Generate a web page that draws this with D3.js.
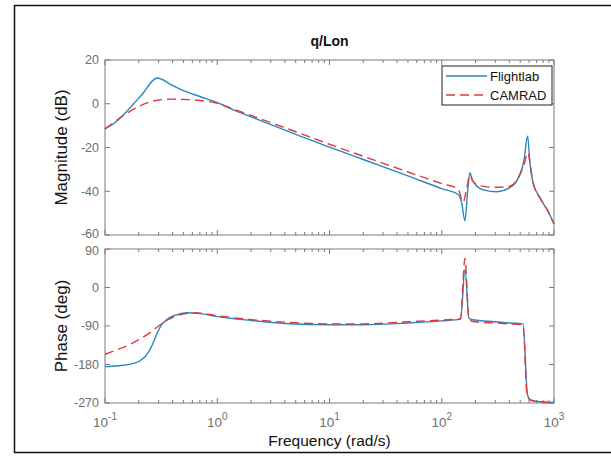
<!DOCTYPE html>
<html>
<head>
<meta charset="utf-8">
<script src="https://cdn.jsdelivr.net/npm/d3@7"></script>
<style>
  body { margin: 0; background: #fff; }
  svg { display: block; font-family: "Liberation Sans", Arial, sans-serif; }
</style>
</head>
<body>
<div id="chart"></div>
<script>
// frequency (rad/s) and magnitude (dB)
var magFreqFL = [0.1, 0.12, 0.15, 0.18, 0.22, 0.26, 0.29, 0.32, 0.38, 0.5, 0.7, 1, 1.5, 2, 3, 5, 10, 20, 50, 100, 140, 150, 161, 170, 178, 188, 200, 240, 310, 400, 480, 540, 582, 610, 650, 750, 880, 1000];
var magFL = [-11.5, -9, -4.5, 0, 5, 10, 11.8, 11.2, 9, 6, 3.3, 0.5, -3.5, -6, -9.5, -14, -19.8, -25.5, -33, -38.8, -41.5, -45, -53.5, -40, -31.5, -35, -37, -39.5, -40.2, -38.5, -34, -26, -14.7, -27, -36, -43, -49, -55];

var magFreqCR = [0.1, 0.12, 0.15, 0.2, 0.25, 0.3, 0.4, 0.5, 0.7, 1, 1.5, 2, 3, 5, 10, 20, 50, 100, 140, 155, 165, 178, 190, 220, 300, 400, 480, 540, 585, 615, 650, 750, 880, 1000];
var magCR = [-11.5, -8.5, -5, -1.2, 0.8, 1.7, 2.1, 2, 1.5, 0.2, -3, -5.3, -8.6, -12.8, -18.5, -24, -31.2, -36.5, -39, -45, -40, -32.8, -35.5, -37.5, -38.2, -37.8, -34, -28, -22.4, -28, -36, -43, -49, -55];

// frequency (rad/s) and phase (deg)
var phFreqFL = [0.1, 0.13, 0.17, 0.2, 0.23, 0.26, 0.29, 0.32, 0.36, 0.42, 0.53, 0.7, 1, 2, 4, 10, 20, 50, 100, 147, 161, 175, 195, 300, 400, 530, 580, 620, 700, 1000];
var phFL = [-185, -183, -179, -173, -160, -138, -108, -87, -74, -65, -59, -61, -68, -77, -84, -87, -87, -83, -78, -74, 42, -72, -76, -80, -83, -85, -250, -263, -266, -269];

var phFreqCR = [0.1, 0.13, 0.17, 0.2, 0.26, 0.3, 0.36, 0.45, 0.65, 1, 2, 4, 10, 20, 50, 100, 147, 161, 175, 195, 300, 400, 530, 575, 620, 1000];
var phCR = [-156, -145, -132, -122, -103, -90, -76, -65, -59, -66, -75, -81, -85, -85, -80, -76, -73, 68, -75, -80, -83, -85, -88, -250, -264, -270];

var magTicks = [20, 0, -20, -40, -60];
var phTicks = [90, 0, -90, -180, -270];
var freqTicks = [0.1, 1, 10, 100, 1000];
var seriesNames = ["Flightlab", "CAMRAD"];

var W = 611, H = 456;
var left = 105, right = 554;
var magTop = 60, magBot = 235;
var phTop = 249, phBot = 403;

var blue = "#2a86c0", red = "#e03a3e", axisCol = "#7a7a7a", dash = "9,5";

var svg = d3.select("#chart").append("svg")
    .attr("width", W)
    .attr("height", H);

// outer frame
svg.append("rect")
    .attr("x", 14.5).attr("y", 5.5)
    .attr("width", 620).attr("height", 447)
    .attr("fill", "none").attr("stroke", "#111").attr("stroke-width", 1.5);

var x = d3.scaleLog().domain([0.1, 1000]).range([left, right]);
var yMag = d3.scaleLinear().domain([-60, 20]).range([magBot, magTop]);
var yPh = d3.scaleLinear().domain([-270, 90]).range([phBot, phTop]);

// minor log ticks
var minor = [];
[0.1, 1, 10, 100].forEach(function(d) {
    for (var k = 2; k <= 9; k++) minor.push(d * k);
});

function drawAxes(y, ticks, top, bot, nudge) {
    var g = svg.append("g");
    g.append("rect")
        .attr("x", left).attr("y", top)
        .attr("width", right - left).attr("height", bot - top)
        .attr("fill", "#fff").attr("stroke", axisCol).attr("stroke-width", 1);

    // x ticks, inward on top and bottom
    freqTicks.forEach(function(f) {
        g.append("line").attr("x1", x(f)).attr("x2", x(f)).attr("y1", bot).attr("y2", bot - 5).attr("stroke", axisCol);
        g.append("line").attr("x1", x(f)).attr("x2", x(f)).attr("y1", top).attr("y2", top + 5).attr("stroke", axisCol);
    });
    minor.forEach(function(f) {
        g.append("line").attr("x1", x(f)).attr("x2", x(f)).attr("y1", bot).attr("y2", bot - 3).attr("stroke", axisCol);
        g.append("line").attr("x1", x(f)).attr("x2", x(f)).attr("y1", top).attr("y2", top + 3).attr("stroke", axisCol);
    });

    // y ticks on left and right
    ticks.forEach(function(t, i) {
        g.append("line").attr("x1", left).attr("x2", left + 5).attr("y1", y(t)).attr("y2", y(t)).attr("stroke", axisCol);
        g.append("line").attr("x1", right).attr("x2", right - 5).attr("y1", y(t)).attr("y2", y(t)).attr("stroke", axisCol);
        g.append("text")
            .attr("x", left - 6).attr("y", y(t) + (nudge[i] || 0))
            .attr("dy", "0.35em")
            .attr("text-anchor", "end")
            .attr("font-size", 12.5)
            .attr("fill", "#6e6e6e")
            .text(t);
    });
    return g;
}

function drawLine(g, fr, vals, y, color, dashed) {
    var line = d3.line()
        .x(function(d, i) { return x(fr[i]); })
        .y(function(d) { return y(d); })
        .curve(d3.curveMonotoneX);
    var p = g.append("path")
        .datum(vals)
        .attr("d", line)
        .attr("fill", "none")
        .attr("stroke", color)
        .attr("stroke-width", 1.4);
    if (dashed) p.attr("stroke-dasharray", dash);
}

var gMag = drawAxes(yMag, magTicks, magTop, magBot, [0, 0, 0, 0, -1.5]);
drawLine(gMag, magFreqFL, magFL, yMag, blue, false);
drawLine(gMag, magFreqCR, magCR, yMag, red, true);

var gPh = drawAxes(yPh, phTicks, phTop, phBot, [1.5, 0, 0, 0, 0]);
drawLine(gPh, phFreqFL, phFL, yPh, blue, false);
drawLine(gPh, phFreqCR, phCR, yPh, red, true);

// x tick labels 10^n
freqTicks.forEach(function(f) {
    var t = svg.append("text")
        .attr("x", x(f)).attr("y", 427)
        .attr("text-anchor", "middle")
        .attr("font-size", 13.5)
        .attr("fill", "#6e6e6e");
    t.append("tspan").text("10");
    t.append("tspan")
        .attr("dy", -7)
        .attr("font-size", 10)
        .text(Math.round(Math.log10(f)));
});

// legend
var lg = svg.append("g");
lg.append("rect")
    .attr("x", 442).attr("y", 66)
    .attr("width", 110).attr("height", 39)
    .attr("fill", "#fff").attr("stroke", "#222").attr("stroke-width", 1);
seriesNames.forEach(function(name, i) {
    var yy = 76 + i * 19;
    lg.append("line")
        .attr("x1", 446).attr("x2", 487)
        .attr("y1", yy).attr("y2", yy)
        .attr("stroke", i === 0 ? blue : red)
        .attr("stroke-width", 1.4)
        .attr("stroke-dasharray", i === 0 ? null : dash);
    lg.append("text")
        .attr("x", 490).attr("y", yy)
        .attr("dy", "0.35em")
        .attr("font-size", 13)
        .attr("fill", "#111")
        .text(name);
});

// title and labels
svg.append("text")
    .attr("x", (left + right) / 2).attr("y", 46)
    .attr("text-anchor", "middle")
    .attr("font-size", 14)
    .attr("font-weight", "bold")
    .attr("fill", "#111")
    .text("q/Lon");

svg.append("text")
    .attr("x", (left + right) / 2).attr("y", 446)
    .attr("text-anchor", "middle")
    .attr("font-size", 15.5)
    .attr("fill", "#111")
    .text("Frequency  (rad/s)");

svg.append("text")
    .attr("transform", "translate(67," + (magTop + magBot) / 2 + ") rotate(-90)")
    .attr("text-anchor", "middle")
    .attr("font-size", 17)
    .attr("fill", "#111")
    .text("Magnitude (dB)");

svg.append("text")
    .attr("transform", "translate(67," + (phTop + phBot) / 2 + ") rotate(-90)")
    .attr("text-anchor", "middle")
    .attr("font-size", 17)
    .attr("fill", "#111")
    .text("Phase (deg)");
</script>
</body>
</html>
